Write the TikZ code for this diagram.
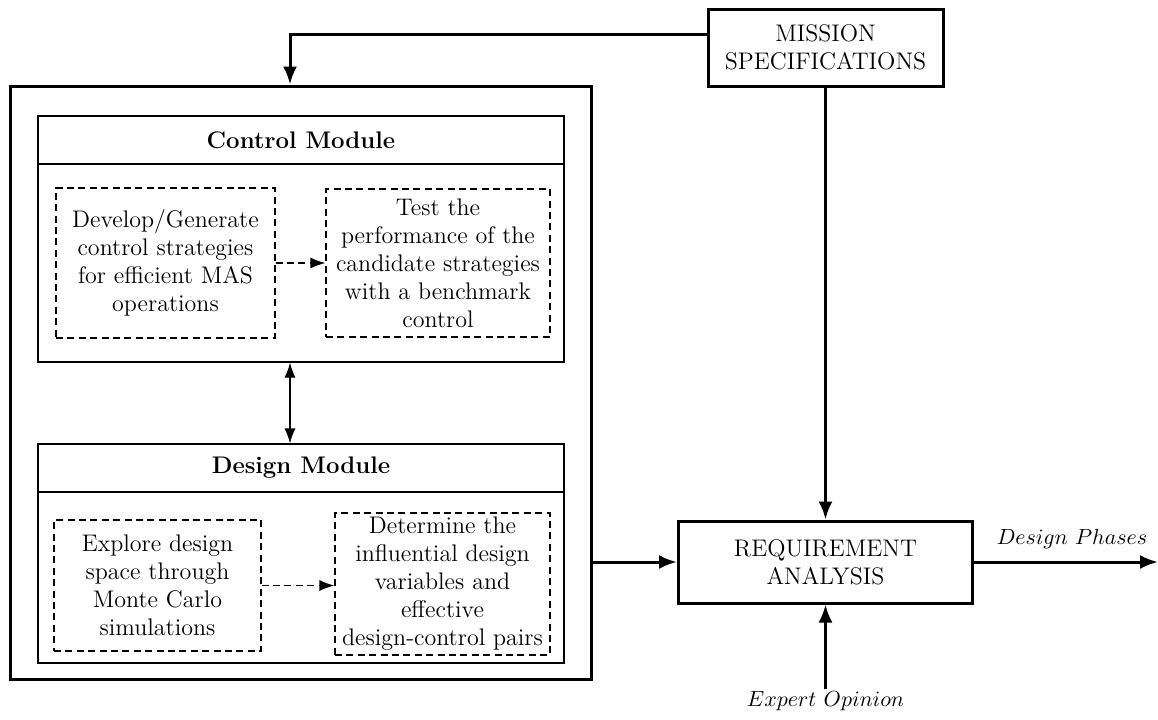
\documentclass[tikz,border=0pt]{standalone}
\usetikzlibrary{arrows.meta}

\tikzset{
  txt/.style={font=\fontsize{12}{14}\selectfont, align=center},
  thickbox/.style={draw, line width=1.5pt, txt, inner sep=0pt},
  modbox/.style={draw, line width=0.6pt, inner sep=0pt},
  dbox/.style={draw, line width=0.6pt, dash pattern=on 3.5pt off 2.2pt, txt, inner sep=0pt},
  title/.style={txt, font=\fontsize{12}{14}\selectfont\bfseries},
  thickarrow/.style={line width=1.5pt, -{Latex[length=9pt,width=7pt]}},
  thinarrow/.style={line width=0.6pt, {Latex[length=7.5pt,width=5.5pt]}-{Latex[length=7.5pt,width=5.5pt]}},
  dasharrow/.style={line width=0.6pt, dash pattern=on 3.5pt off 2.2pt, -{Latex[length=7.5pt,width=5.5pt]}},
  lbl/.style={font=\fontsize{11.3}{14}\selectfont, inner sep=1pt}
}

\begin{document}
\begin{tikzpicture}[x=0.5pt, y=-0.5pt]
\useasboundingbox (0,0) rectangle (1158,719);

% top-level blocks
\node[thickbox, minimum width=117.5pt, minimum height=38.5pt] (ms) at (825.5,47.5) {MISSION\\SPECIFICATIONS};
\node[thickbox, minimum width=290.5pt, minimum height=296.5pt] (outer) at (300.5,382.5) {};
\node[thickbox, minimum width=147pt, minimum height=41pt] (ra) at (825.5,562) {REQUIREMENT\\ANALYSIS};

% control module
\node[modbox, minimum width=263pt, minimum height=123pt] (cm) at (301,239) {};
\node[title] (cmtitle) at (301,140) {Control Module};
\coordinate (cmhdr) at (301,164);
\draw[line width=0.6pt] (cm.west |- cmhdr) -- (cm.east |- cmhdr);
\node[dbox, minimum width=109.5pt, minimum height=75pt] (d1) at (165.5,263)
  {Develop/Generate\\control strategies\\for efficient MAS\\operations};
\node[dbox, minimum width=112pt, minimum height=74pt] (d2) at (438,263)
  {Test the\\performance of the\\candidate strategies\\with a benchmark\\control};

% design module
\node[modbox, minimum width=263pt, minimum height=109.5pt] (dm) at (301,553.5) {};
\node[title] (dmtitle) at (301,468) {Design Module};
\coordinate (dmhdr) at (301,492);
\draw[line width=0.6pt] (dm.west |- dmhdr) -- (dm.east |- dmhdr);
\node[dbox, minimum width=103.5pt, minimum height=65.5pt] (d3) at (157.5,585.5)
  {Explore design\\space through\\Monte Carlo\\simulations};
\node[dbox, minimum width=107.5pt, minimum height=71pt] (d4) at (442.5,584)
  {Determine the\\influential design\\variables and\\effective\\design-control pairs};

% connectors
\coordinate (fbk) at (290,34);
\draw[thickarrow] (ms.west |- fbk) -- (fbk) -- (fbk |- outer.north);
\draw[thinarrow] (cm.south -| fbk) -- (dm.north -| fbk);
\draw[dasharrow] (d1.east |- d2.west) -- (d2.west);
\draw[dasharrow] (d3.east) -- (d3.east -| d4.west);
\draw[thickarrow] (outer.east |- ra.west) -- (ra.west);
\draw[thickarrow] (ms.south) -- (ms.south |- ra.north);

\node[lbl, anchor=north] (exp) at (825.5,689) {$Expert\ Opinion$};
\draw[thickarrow] (exp.north) -- (exp.north |- ra.south);

\coordinate (phases) at (1158,562);
\draw[thickarrow] (ra.east) -- node[lbl, above=5pt, xshift=3pt] (dp) {$Design\ Phases$} (phases);
\end{tikzpicture}
\end{document}
